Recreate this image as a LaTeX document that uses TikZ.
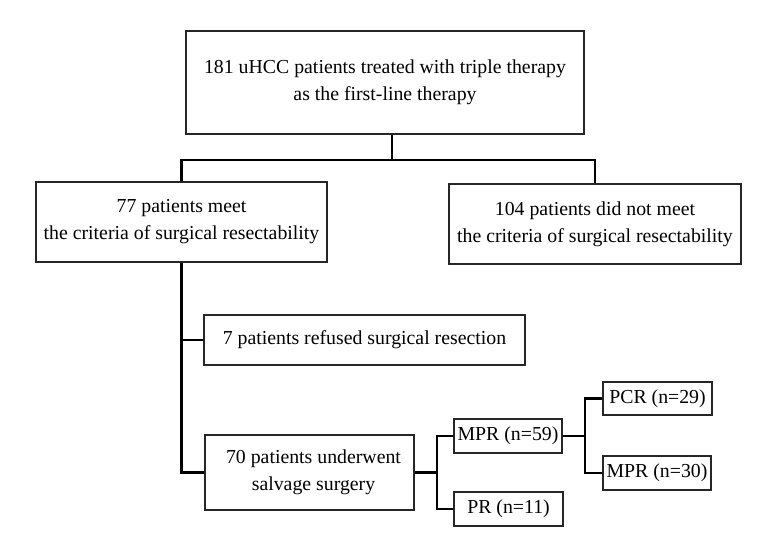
\documentclass[tikz,border=0pt]{standalone}
\usepackage{fontspec}
\setmainfont{Liberation Serif}
\begin{document}
\begin{tikzpicture}[x=1pt,y=-1pt,
  box/.style={draw=black!85, line width=1.6pt, align=center, inner sep=0pt,
    font=\fontsize{19.8}{27}\selectfont, text=black},
  conn/.style={draw=black, line width=2.3pt}]
\useasboundingbox (0,0) rectangle (775,557);
\node[box, minimum width=398pt, minimum height=103pt] (top) at (385,82.5)
  {181 uHCC patients treated with triple therapy\\as the first-line therapy};
\node[box, minimum width=291pt, minimum height=80pt] (left) at (181.5,222)
  {77 patients meet\\the criteria of surgical resectability};
\node[box, minimum width=292pt, minimum height=80pt] (right) at (595,224)
  {104 patients did not meet\\the criteria of surgical resectability};
\node[box, minimum width=321pt, minimum height=50pt] (ref) at (364.5,340)
  {7 patients refused surgical resection};
\node[box, minimum width=209pt, minimum height=75pt] (salv) at (309.5,472.5)
  {\hspace*{8pt}70 patients underwent\\\hspace*{8pt}salvage surgery};
\node[box, minimum width=108pt, minimum height=34pt] (mpr) at (508,436) {MPR (n=59)};
\node[box, minimum width=109pt, minimum height=34pt] (pr) at (508.5,509) {PR (n=11)};
\node[box, minimum width=109pt, minimum height=33pt] (pcr) at (657.5,398.5) {PCR (n=29)};
\node[box, minimum width=108pt, minimum height=34pt] (mpr30) at (657,473) {MPR (n=30)};
\coordinate (j1) at (392,160);
\coordinate (b1) at (437,472.5);
\coordinate (b2) at (585,436);
\draw[conn] (top.south -| j1) -- (j1);
\draw[conn] (left.north) |- (j1) -| (right.north);
\draw[conn] (left.south) |- (salv.west);
\draw[conn] (ref.west) -- (ref.west -| left.south);
\draw[conn] (salv.east) -- (b1);
\draw[conn] (mpr.west) -| (b1) |- (pr.west);
\draw[conn] (mpr.east) -- (b2);
\draw[conn] (pcr.west) -| (b2) |- (mpr30.west);
\end{tikzpicture}
\end{document}
